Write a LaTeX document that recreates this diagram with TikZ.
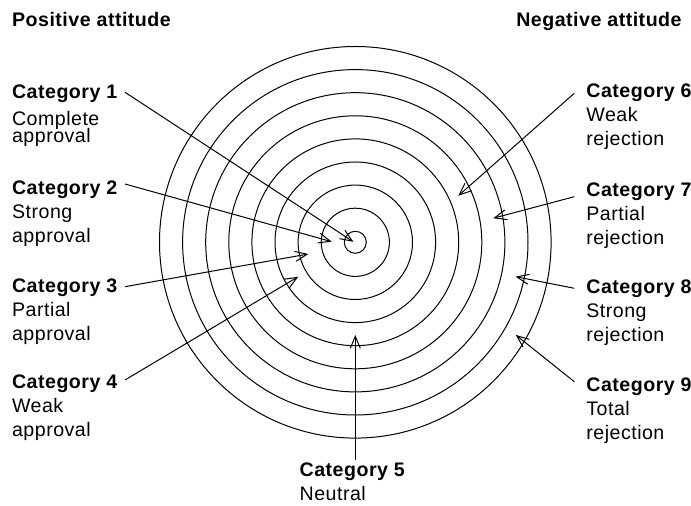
\documentclass[tikz,border=0pt]{standalone}
\usepackage{fontspec}
\setmainfont{Liberation Sans}[LetterSpace=2.5]
\usetikzlibrary{arrows.meta}
\tikzset{
    ringline/.style={line width=0.5pt},
    headtext/.style={inner sep=0pt, font=\fontsize{9.8}{12}\selectfont\bfseries},
    cattext/.style={inner sep=0pt, anchor=north west, align=left,
        font=\fontsize{9.8}{12}\selectfont},
    catarrow/.style={line width=0.5pt, -{Straight Barb[length=6pt,width=5pt]}},
}

\begin{document}
\begin{tikzpicture}[x=0.5pt, y=0.5pt]
    \useasboundingbox (0,0) rectangle (691,-506);

    \node[headtext, anchor=base west] (pos) at (11.7,-26.7) {Positive attitude};
    \node[headtext, anchor=base east] (neg) at (682,-26.7) {Negative attitude};

    % the target
    \coordinate (c) at (355.3,-242.3);
    \foreach \r in {11,34.1,57.2,80.3,103.4,126.5,149.6,172.7,195.8}
        \draw[ringline] (c) circle[radius=\r];

    \path (c) ++(165:2)      coordinate (p1);
    \path (c) ++(178.5:23.6) coordinate (p2);
    \path (c) ++(194:48.4)   coordinate (p3);
    \path (c) ++(211.1:66.6) coordinate (p4);
    \path (c) ++(270:92.7)   coordinate (p5);
    \path (c) ++(24.3:113)   coordinate (p6);
    \path (c) ++(9.9:140.1)  coordinate (p7);
    \path (c) ++(-12.1:164)  coordinate (p8);
    \path (c) ++(-30:185.3)  coordinate (p9);

    % labels
    \node[cattext] (cat1) at (11.7,-84.7)
        {\textbf{Category 1}\\[1.5pt]Complete\\[-3.5pt]approval};
    \node[cattext] (cat2) at (11.7,-180.7)
        {\textbf{Category 2}\\Strong\\approval};
    \node[cattext] (cat3) at (11.7,-278)
        {\textbf{Category 3}\\Partial\\approval};
    \node[cattext] (cat4) at (11.7,-374.7)
        {\textbf{Category 4}\\Weak\\approval};
    \node[cattext] (cat5) at (299.3,-462.7)
        {\textbf{Category 5}\\Neutral};
    \node[cattext] (cat6) at (586,-83.4)
        {\textbf{Category 6}\\Weak\\rejection};
    \node[cattext] (cat7) at (586,-182.4)
        {\textbf{Category 7}\\Partial\\rejection};
    \node[cattext] (cat8) at (586,-279)
        {\textbf{Category 8}\\Strong\\rejection};
    \node[cattext] (cat9) at (586,-377.4)
        {\textbf{Category 9}\\Total\\rejection};

    % arrows
    \draw[catarrow] ([shift={(56.65pt,-3.8pt)}]cat1.north west) -- (p1);
    \draw[catarrow] ([shift={(56.65pt,-1.65pt)}]cat2.north west) -- (p2);
    \draw[catarrow] ([shift={(56.65pt,-4.35pt)}]cat3.north west) -- (p3);
    \draw[catarrow] ([shift={(56.65pt,-2.65pt)}]cat4.north west) -- (p4);
    \draw[catarrow, shorten <=1.3pt] (cat5.north -| p5) -- (p5);
    \draw[catarrow] ([shift={(-5.85pt,-4.95pt)}]cat6.north west) -- (p6);
    \draw[catarrow] ([shift={(-5.85pt,-7.15pt)}]cat7.north west) -- (p7);
    \draw[catarrow] ([shift={(-5.85pt,-4.65pt)}]cat8.north west) -- (p8);
    \draw[catarrow] ([shift={(-5.85pt,-2.15pt)}]cat9.north west) -- (p9);
\end{tikzpicture}
\end{document}
